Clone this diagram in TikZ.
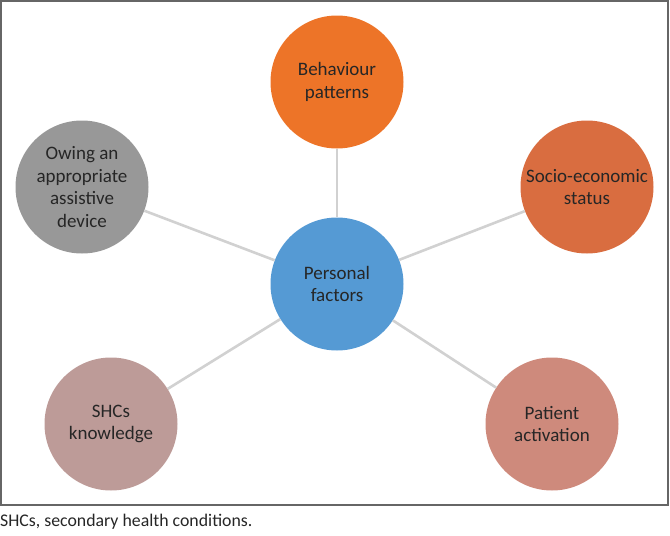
\documentclass[tikz,border=0pt]{standalone}
\usepackage{fontspec}
\setmainfont{Carlito}
\begin{document}
\begin{tikzpicture}[x=1pt,y=-1pt,
  bub/.style={circle,minimum size=133pt,inner sep=0pt,text=black!85,align=center,font=\fontsize{19}{22.8}\selectfont},
  link/.style={draw=black!18,line width=2.6pt}]
\definecolor{cbeh}{HTML}{ED7428}
\definecolor{csoc}{HTML}{D96D40}
\definecolor{cown}{HTML}{989898}
\definecolor{cper}{HTML}{559AD4}
\definecolor{cshc}{HTML}{BD9B98}
\definecolor{cpat}{HTML}{CE8A7C}
\useasboundingbox (0,0) rectangle (670,536);
\draw[draw=black!60,line width=1.3pt] (1,1) rectangle (668,505);
\node[bub,fill=cper] (per) at (337,284) {Personal\\factors};
\node[bub,fill=cbeh] (beh) at (337,82) {Behaviour\\patterns};
\node[bub,fill=csoc] (soc) at (587,187) {Socio-economic\\status};
\node[bub,fill=cown] (own) at (82,187) {Owing an\\appropriate\\assistive\\device};
\node[bub,fill=cshc] (shc) at (111,424) {SHCs\\knowledge};
\node[bub,fill=cpat] (pat) at (552,424) {Patient\\activation};
\draw[link] (per) -- (beh);
\draw[link] (per) -- (soc);
\draw[link] (per) -- (own);
\draw[link] (per) -- (shc);
\draw[link] (per) -- (pat);
\node[anchor=west,inner sep=0pt,text=black!85,font=\fontsize{17.8}{20}\selectfont] (cap) at (0,522) {SHCs, secondary health conditions.};
\end{tikzpicture}
\end{document}
